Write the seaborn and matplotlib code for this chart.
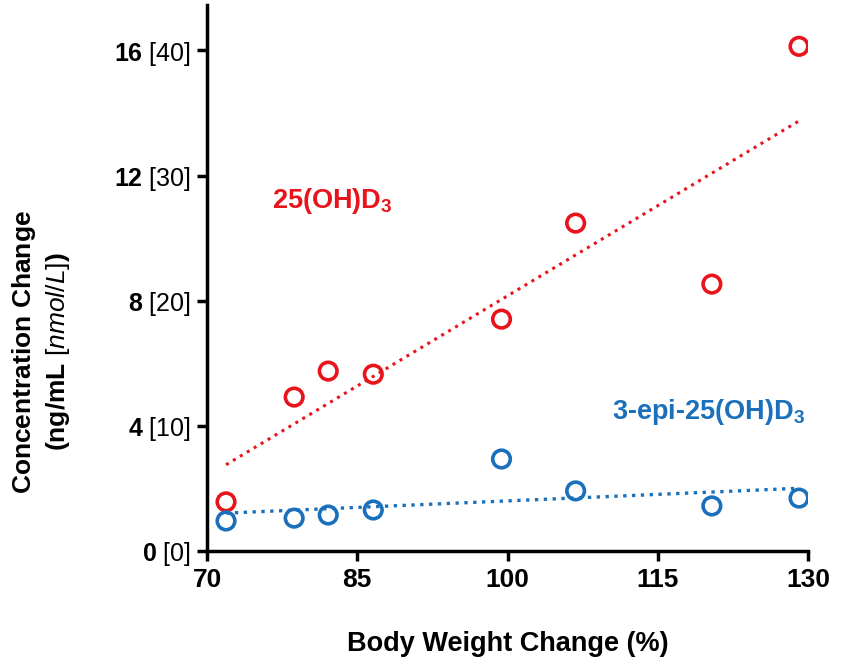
import numpy as np
import pandas as pd
import matplotlib
matplotlib.use('Agg')
import matplotlib.pyplot as plt
import seaborn as sns

# Values
weight_change = [71.9, 78.7, 82.1, 86.6, 99.4, 106.8, 120.4, 129.1]
conc_25ohd3 = [1.57, 4.92, 5.75, 5.65, 7.41, 10.48, 8.53, 16.13]
weight_change_epi = [71.9, 78.7, 82.1, 86.6, 99.4, 106.8, 120.4, 129.1]
conc_epi = [0.96, 1.05, 1.15, 1.31, 2.94, 1.92, 1.44, 1.69]

x_ticks = [70, 85, 100, 115, 130]
y_ticks = [0, 4, 8, 12, 16]
y_ticks_nmol = [0, 10, 20, 30, 40]

red = '#E8141C'
blue = '#1A70BA'

df_red = pd.DataFrame({'x': weight_change, 'y': conc_25ohd3})
df_blue = pd.DataFrame({'x': weight_change_epi, 'y': conc_epi})

sns.set_style('white')
plt.rcParams['font.family'] = ['Liberation Sans', 'DejaVu Sans']
plt.rcParams['mathtext.fontset'] = 'custom'
plt.rcParams['mathtext.rm'] = 'Liberation Sans'
plt.rcParams['mathtext.it'] = 'Liberation Sans:italic'
plt.rcParams['mathtext.bf'] = 'Liberation Sans:bold'
for key in ['text.color', 'axes.labelcolor', 'xtick.color', 'ytick.color']:
    plt.rcParams[key] = 'black'

fig = plt.figure(figsize=(8.47, 6.62), dpi=100)
ax = fig.add_axes([0.2444, 0.1677, 0.7096, 0.8247])

marker_kws = dict(marker='o', s=160, facecolors='none', linewidths=2.6, alpha=1)
sns.regplot(data=df_red, x='x', y='y', ax=ax, ci=None, truncate=True,
            scatter_kws=dict(edgecolors=red, **marker_kws),
            line_kws=dict(color=red, linestyle=':', linewidth=2.2))
sns.regplot(data=df_blue, x='x', y='y', ax=ax, ci=None, truncate=True,
            scatter_kws=dict(edgecolors=blue, **marker_kws),
            line_kws=dict(color=blue, linestyle=':', linewidth=2.4))

ax.set_xlim(70, 130)
ax.set_ylim(0, 17.45)
ax.set_xticks(x_ticks)
ax.set_xticklabels([str(t) for t in x_ticks], fontsize=19, fontweight='bold')
ax.set_yticks(y_ticks)
ax.set_yticklabels([r'$\mathbf{%d}\ [\mathit{%d}]$' % (a, b)
                    for a, b in zip(y_ticks, y_ticks_nmol)], fontsize=18)

sns.despine(ax=ax)
for side in ['left', 'bottom']:
    ax.spines[side].set_linewidth(2.5)
    ax.spines[side].set_color('black')
ax.tick_params(axis='both', direction='out', length=7, width=2.5,
               color='black', pad=5, left=True, bottom=True)

ax.set_xlabel('Body Weight Change (%)', fontsize=19.5, fontweight='bold',
              labelpad=28)
ax.set_ylabel(r'$\mathbf{Concentration\ Change}$' + '\n' +
              r'$\mathbf{(ng/mL}\ [\mathit{nmol/L}]\mathbf{)}$',
              fontsize=19, linespacing=1.25, va='center')
ax.yaxis.set_label_coords(-0.276, 0.365)

plt.rcParams['mathtext.default'] = 'regular'
ax.text(76.5, 11.2, '25(OH)D$_3$', color=red, fontsize=19.5,
        fontweight='bold', va='center', ha='left')
ax.text(110.4, 4.45, '3-epi-25(OH)D$_3$', color=blue, fontsize=19.5,
        fontweight='bold', va='center', ha='left', clip_on=False)

fig.savefig('out.png', dpi=100)
